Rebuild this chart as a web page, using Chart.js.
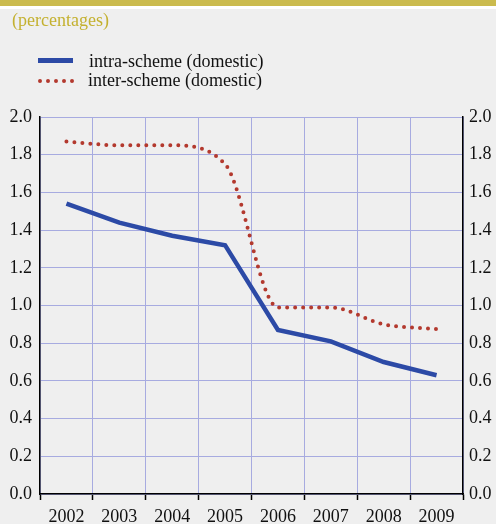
<!DOCTYPE html>
<html><head><meta charset="utf-8">
<script src="https://cdn.jsdelivr.net/npm/chart.js@4"></script>
<style>
html,body{margin:0;padding:0;background:#efefef;}
#wrap{position:relative;width:496px;height:524px;overflow:hidden;background:#efefef;}
#bar{position:absolute;left:0;top:0;width:496px;height:6px;background:#cbbb4e;}
#bar2{position:absolute;left:0;top:6px;width:496px;height:3px;background:#ffffff;}
#title{position:absolute;left:12px;top:10px;font:18px "Liberation Serif",serif;color:#c4b130;white-space:nowrap;}
canvas{position:absolute;left:0;top:0;}
</style></head>
<body>
<div id="wrap">
<canvas id="c" width="496" height="524"></canvas>
<div id="bar"></div><div id="bar2"></div>
<div id="title">(percentages)</div>
</div>
<script>
const years = ['2002','2003','2004','2005','2006','2007','2008','2009'];
const intraScheme = [1.54,1.44,1.37,1.32,0.87,0.81,0.70,0.63];
const interScheme = [1.87,1.85,1.85,1.75,0.99,0.99,0.90,0.875];
const seriesNames = ['intra-scheme (domestic)','inter-scheme (domestic)'];

const FONT = '"Liberation Serif", serif';
const GRID = '#a7abe0';

const legendPlugin = {
  id: 'customLegend',
  afterDraw(chart) {
    const ctx = chart.ctx;
    const ds = chart.data.datasets;
    ctx.save();
    ctx.strokeStyle = ds[0].borderColor;
    ctx.lineWidth = 5;
    ctx.lineCap = 'butt';
    ctx.beginPath(); ctx.moveTo(38, 60.5); ctx.lineTo(73, 60.5); ctx.stroke();
    ctx.strokeStyle = ds[1].borderColor;
    ctx.lineWidth = ds[1].borderWidth;
    ctx.lineCap = 'round';
    ctx.setLineDash(ds[1].borderDash);
    ctx.beginPath(); ctx.moveTo(40, 81); ctx.lineTo(73, 81); ctx.stroke();
    ctx.setLineDash([]);
    ctx.fillStyle = '#111';
    ctx.font = '18px ' + FONT;
    ctx.textBaseline = 'middle';
    ctx.fillText(ds[0].label, 89, 62);
    ctx.fillText(ds[1].label, 88, 81);
    ctx.restore();
  }
};

new Chart(document.getElementById('c'), {
  type: 'line',
  data: {
    labels: years,
    datasets: [
      { label: seriesNames[0], data: intraScheme, borderColor: '#2c4aa6', borderWidth: 4.5,
        pointRadius: 0, tension: 0, fill: false, yAxisID: 'y' },
      { label: seriesNames[1], data: interScheme, borderColor: '#b3392e', borderWidth: 4,
        borderDash: [0, 8], borderCapStyle: 'round', pointRadius: 0,
        cubicInterpolationMode: 'monotone', fill: false, yAxisID: 'y' }
    ]
  },
  options: {
    responsive: false,
    animation: false,
    layout: { padding: { top: 117, left: 0, right: 0, bottom: 0 } },
    plugins: { legend: { display: false }, tooltip: { enabled: false }, title: { display: false } },
    scales: {
      x: {
        offset: true,
        grid: { display: true, offset: true, color: GRID, lineWidth: 1, drawOnChartArea: true,
                drawTicks: true, tickLength: 6, tickColor: '#000', tickWidth: 1.5 },
        border: { display: true, color: '#000', width: 1.5 },
        ticks: { color: '#111', font: { family: FONT, size: 18 }, padding: 6, maxRotation: 0, autoSkip: false },
        afterFit(s) { s.height = 30; }
      },
      y: {
        position: 'left', min: 0, max: 2,
        grid: { color: GRID, lineWidth: 1, drawTicks: false },
        border: { display: true, color: '#000', width: 1.5 },
        ticks: { stepSize: 0.2, color: '#111', font: { family: FONT, size: 18 }, padding: 8,
                 callback: v => Number(v).toFixed(1) },
        afterFit(s) { s.width = 40; }
      },
      y2: {
        position: 'right', min: 0, max: 2,
        grid: { display: false, drawTicks: false },
        border: { display: true, color: '#000', width: 1.5 },
        ticks: { stepSize: 0.2, color: '#111', font: { family: FONT, size: 18 }, padding: 6,
                 callback: v => Number(v).toFixed(1) },
        afterFit(s) { s.width = 33; }
      }
    }
  },
  plugins: [legendPlugin]
});
</script>
</body></html>
